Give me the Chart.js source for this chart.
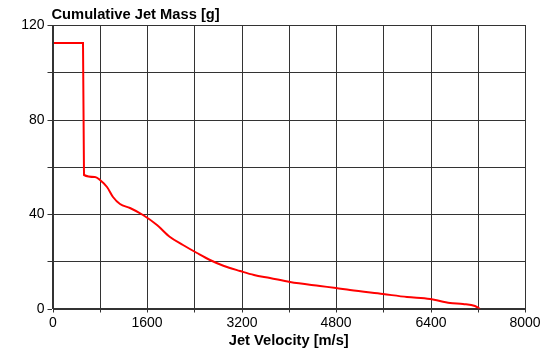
<!DOCTYPE html>
<html>
<head>
<meta charset="utf-8">
<script src="https://cdn.jsdelivr.net/npm/chart.js@4/dist/chart.umd.min.js"></script>
<style>
html,body{margin:0;padding:0;background:#fff;}
#wrap{width:552px;height:350px;position:relative;}
</style>
</head>
<body>
<div id="wrap"><canvas id="c" width="552" height="350"></canvas></div>
<script>
const chartTitle = "Cumulative Jet Mass [g]";
const xTitle = "Jet Velocity [m/s]";
const velocity = [20, 510, 533, 719, 804, 917, 1029, 1142, 1311, 1536, 1763, 1988, 2213, 2440, 2665, 2900, 3173, 3420, 3680, 4019, 4526, 4808, 5034, 5597, 6000, 6388, 6726, 6951, 7149, 7233];
const mass = [112.5, 112.5, 56.3, 55.6, 54.6, 51.4, 47.2, 44.4, 42.5, 39.5, 35.2, 30.3, 26.8, 23.3, 20.6, 18.1, 15.8, 14.1, 12.7, 11.3, 9.6, 8.6, 7.8, 6.0, 4.9, 3.9, 2.4, 1.8, 1.2, 0];
const xLabelTicks = [0, 1600, 3200, 4800, 6400, 8000];
const yLabelTicks = [0, 40, 80, 120];

const pts = velocity.map((v, i) => ({x: v, y: mass[i]}));

const titlePlugin = {
  id: 'titlePlugin',
  afterDraw(chart) {
    const ctx = chart.ctx;
    ctx.save();
    ctx.fillStyle = '#000';
    ctx.font = 'bold 14.7px "Liberation Sans", Arial, sans-serif';
    ctx.textAlign = 'left';
    ctx.textBaseline = 'alphabetic';
    ctx.fillText(chartTitle, chart.chartArea.left - 1, 19);
    ctx.restore();
  }
};

new Chart(document.getElementById('c'), {
  type: 'scatter',
  data: {
    datasets: [{
      data: pts,
      showLine: true,
      borderColor: '#ff0000',
      borderWidth: 2,
      pointRadius: 0,
      cubicInterpolationMode: 'monotone',
      fill: false
    }]
  },
  options: {
    responsive: false,
    animation: false,
    devicePixelRatio: 1,
    layout: {padding: {left: 0, right: 27, top: 25, bottom: 0}},
    plugins: {legend: {display: false}, tooltip: {enabled: false}},
    scales: {
      x: {
        type: 'linear',
        min: 0, max: 8000,
        alignToPixels: true,
        afterFit(s) { s.height = 41.5; },
        grid: {color: '#333', lineWidth: 1, tickLength: 4, drawTicks: true, tickColor: '#333'},
        border: {color: '#333', width: 1},
        ticks: {
          stepSize: 800,
          autoSkip: false,
          maxRotation: 0,
          padding: 2,
          color: '#000',
          font: {family: '"Liberation Sans", Arial, sans-serif', size: 14},
          callback: v => xLabelTicks.includes(v) ? String(v) : ''
        },
        title: {
          display: true,
          text: xTitle,
          color: '#000',
          padding: {top: 0, bottom: 0},
          font: {family: '"Liberation Sans", Arial, sans-serif', size: 14.7, weight: 'bold'}
        }
      },
      y: {
        type: 'linear',
        min: 0, max: 120,
        alignToPixels: true,
        afterFit(s) { s.width = 52.5; },
        grid: {color: '#333', lineWidth: 1, tickLength: 5, tickColor: '#333'},
        border: {color: '#333', width: 1},
        ticks: {
          stepSize: 20,
          autoSkip: false,
          padding: 3,
          color: '#000',
          font: {family: '"Liberation Sans", Arial, sans-serif', size: 14},
          callback: v => yLabelTicks.includes(v) ? String(v) : ''
        }
      }
    }
  },
  plugins: [titlePlugin]
});
</script>
</body>
</html>
